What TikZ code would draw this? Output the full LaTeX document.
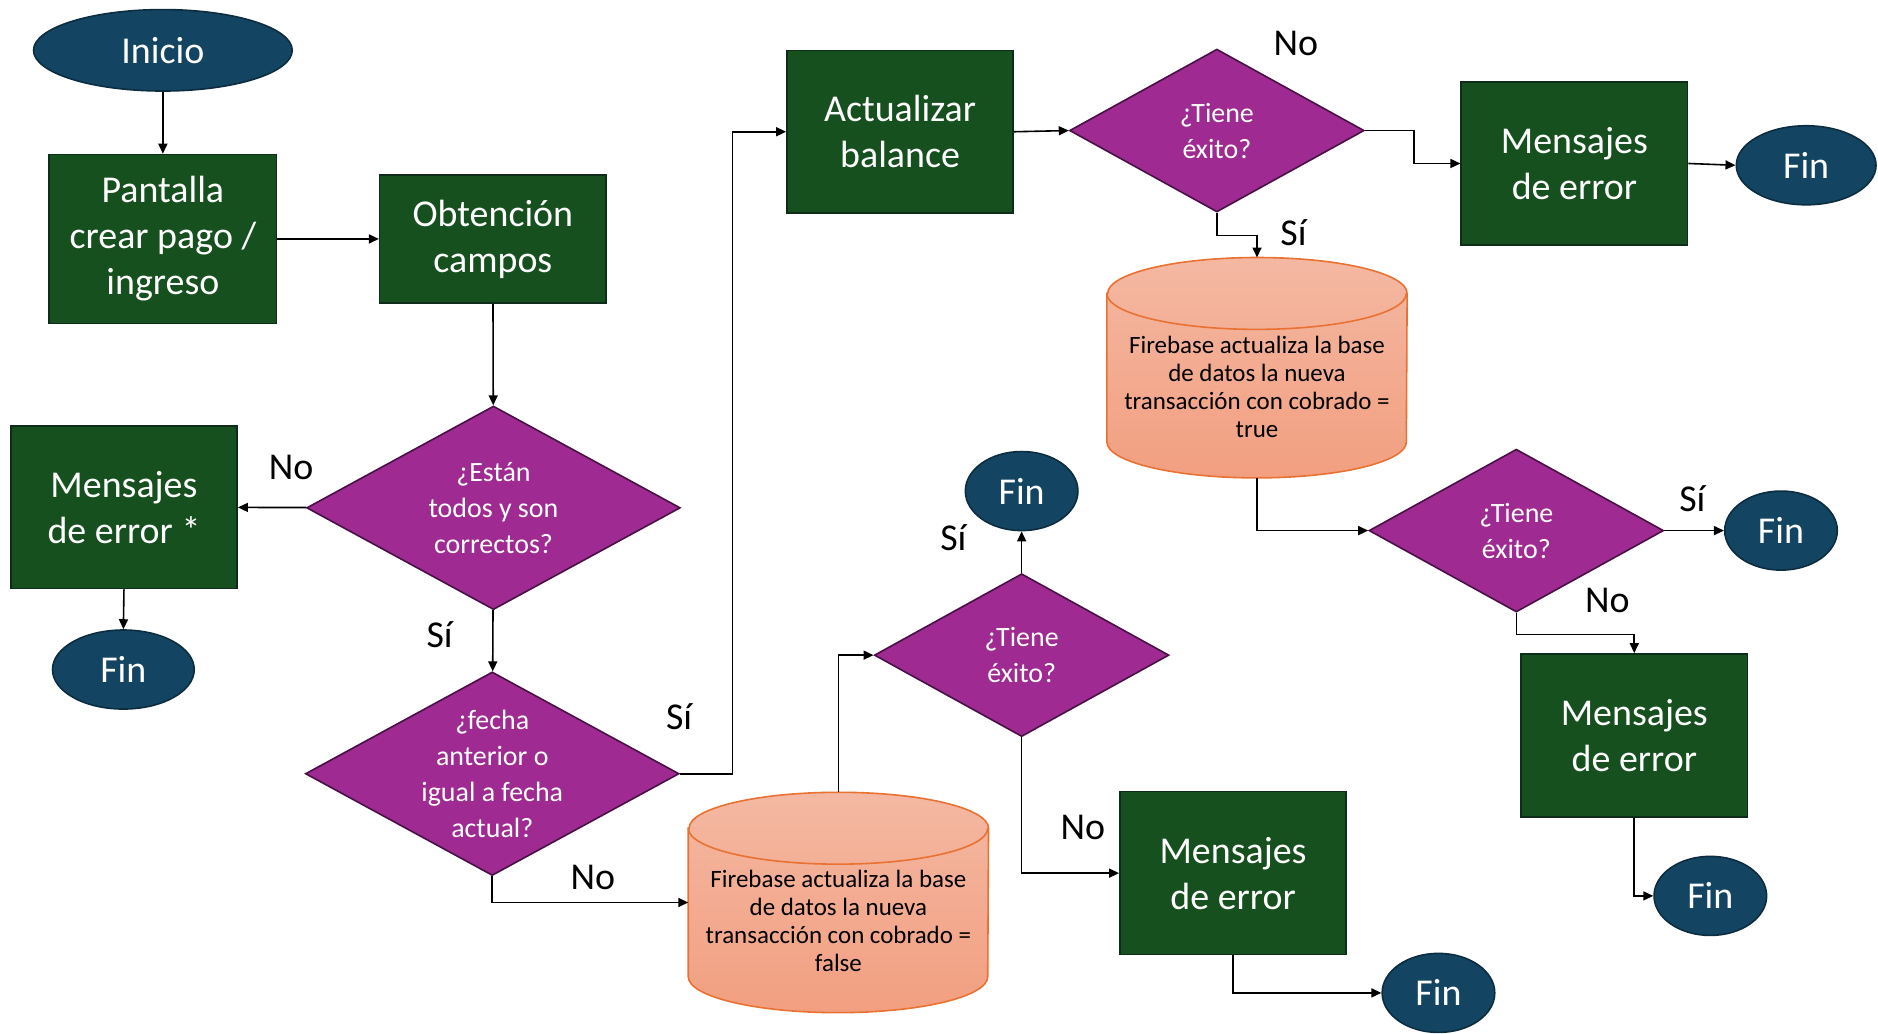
\documentclass[tikz,border=0pt]{standalone}
\usepackage{fontspec}
\setmainfont{Carlito}
\usetikzlibrary{shapes.geometric}
\usetikzlibrary{arrows.meta}

\definecolor{azul}{HTML}{134562}
\definecolor{azulborde}{HTML}{0C2C40}
\definecolor{verde}{HTML}{17501F}
\definecolor{verdeborde}{HTML}{0D2C19}
\definecolor{morado}{HTML}{9E2A92}
\definecolor{moradoborde}{HTML}{4A1045}
\definecolor{naranja}{HTML}{E97132}
\definecolor{salmonclaro}{HTML}{F4B8A2}
\definecolor{salmon}{HTML}{F29F80}

\tikzset{
  terminal/.style={ellipse, draw=azulborde, fill=azul, text=white, line width=0.8pt,
    minimum width=56.4pt, minimum height=39.6pt, inner sep=0pt, font=\fontsize{19}{22}\selectfont},
  proceso/.style={rectangle, draw=verdeborde, fill=verde, text=white, line width=0.8pt,
    minimum width=113.4pt, minimum height=81.6pt, align=center, font=\fontsize{19}{23}\selectfont},
  decision/.style={diamond, draw=moradoborde, fill=morado, text=white, line width=0.8pt,
    minimum width=147.6pt, minimum height=81.6pt, aspect=1.8, inner sep=-12pt, align=center,
    font=\fontsize{14}{18}\selectfont},
  bd/.style={minimum width=150pt, minimum height=110pt, inner sep=0pt},
  bdcuerpo/.style={draw=naranja, line width=0.8pt, top color=salmonclaro, bottom color=salmon},
  bdtexto/.style={align=center, font=\fontsize{12.5}{14}\selectfont},
  etiqueta/.style={font=\fontsize{19}{22}\selectfont},
  flecha/.style={-{Triangle[length=5pt,width=4.5pt]}, line width=0.8pt},
}

% base de datos: cuerpo del cilindro sobre el nodo #1
\newcommand{\cilindro}[1]{%
  \path[bdcuerpo] ([yshift=-18pt]#1.north west) -- ([yshift=18pt]#1.south west)
    arc[start angle=180,end angle=360,x radius=75pt,y radius=18pt]
    -- ([yshift=-18pt]#1.north east)
    arc[start angle=0,end angle=180,x radius=75pt,y radius=18pt] -- cycle;
  \draw[naranja, line width=0.8pt] ([yshift=-18pt]#1.north west)
    arc[start angle=180,end angle=360,x radius=75pt,y radius=18pt];}

\begin{document}
\begin{tikzpicture}[x=0.6pt,y=0.6pt]
  \useasboundingbox (0,0) rectangle (1568,-863);

  % columna izquierda
  \node[terminal, minimum width=129.6pt, minimum height=40.8pt] (inicio) at (136,-42) {Inicio};
  \node[proceso, minimum width=114pt, minimum height=84.6pt] (pantalla) at (136,-199.5) {Pantalla\\crear pago /\\ingreso};
  \node[proceso, minimum height=64.2pt] (campos) at (411.5,-199.5) {Obtención\\campos};
  \node[decision, minimum width=187.2pt, minimum height=102pt] (validos) at (412,-424) {¿Están\\todos y son\\correctos?};
  \node[proceso] (errcampos) at (103.5,-423.5) {Mensajes\\de error *};
  \node[terminal, minimum width=71pt] (fin1) at (103,-559) {Fin};
  \node[decision, minimum width=187.2pt, minimum height=102pt] (fecha) at (411,-646) {¿fecha\\anterior o\\igual a fecha\\actual?};

  % rama de cobro
  \node[proceso] (balance) at (751.5,-110) {Actualizar\\balance};
  \node[decision] (exito1) at (1016,-109) {¿Tiene\\éxito?};
  \node[proceso] (error1) at (1314.5,-136.5) {Mensajes\\de error};
  \node[terminal, minimum width=70pt] (fin2) at (1508,-138) {Fin};
  \node[bd] (bdtrue) at (1049.5,-307) {};
  \cilindro{bdtrue}
  \node[bdtexto] (txttrue) at (1049.5,-323) {Firebase actualiza la base\\de datos la nueva\\transacción con cobrado =\\true};
  \node[decision] (exito2) at (1266,-443) {¿Tiene\\éxito?};
  \node[terminal] (fin3) at (1487,-443) {Fin};
  \node[proceso] (error2) at (1364.5,-614) {Mensajes\\de error};
  \node[terminal] (fin4) at (1428,-748) {Fin};

  % rama sin cobro
  \node[bd] (bdfalse) at (700,-753.5) {};
  \cilindro{bdfalse}
  \node[bdtexto] (txtfalse) at (700,-769) {Firebase actualiza la base\\de datos la nueva\\transacción con cobrado =\\false};
  \node[decision] (exito3) at (853,-547) {¿Tiene\\éxito?};
  \node[terminal] (fin5) at (853,-410) {Fin};
  \node[proceso] (error3) at (1029.5,-729) {Mensajes\\de error};
  \node[terminal] (fin6) at (1201,-829) {Fin};

  % conectores
  \draw[flecha] (inicio) -- (pantalla);
  \draw[flecha] (pantalla) -- (campos);
  \draw[flecha] (campos) -- (validos);
  \draw[flecha] (validos) -- (errcampos);
  \draw[flecha] (errcampos.south) -- (fin1.north);
  \draw[flecha] (validos) -- (fecha);
  \draw[flecha] (fecha.east) -- ++(44,0) |- (balance.west);
  \draw[flecha] (fecha.south) |- (bdfalse.west);
  \draw[flecha] (balance.east) -- (exito1.west);
  \draw[flecha] (exito1.east) -- ++(41,0) |- (error1.west);
  \draw[flecha] (error1.east) -- (fin2.west);
  \draw[flecha] (exito1.south) -- ++(0,-19) -| (bdtrue.north);
  \draw[flecha] (bdtrue.south) |- (exito2.west);
  \draw[flecha] (exito2.east) -- (fin3.west);
  \draw[flecha] (exito2.south) -- ++(0,-18) -| (error2.north);
  \draw[flecha] (error2.south) |- (fin4.west);
  \draw[flecha] (bdfalse.north) |- (exito3.west);
  \draw[flecha] (exito3.north) -- (fin5.south);
  \draw[flecha] (exito3.south) |- (error3.west);
  \draw[flecha] (error3.south) |- (fin6.west);

  % etiquetas
  \node[etiqueta] (no1) at (243,-390) {No};
  \node[etiqueta] (si1) at (367,-530) {Sí};
  \node[etiqueta] (si2) at (567,-598) {Sí};
  \node[etiqueta] (no2) at (495,-733) {No};
  \node[etiqueta] (si3) at (796,-449) {Sí};
  \node[etiqueta] (no3) at (904,-691) {No};
  \node[etiqueta] (no4) at (1082,-36) {No};
  \node[etiqueta] (si4) at (1080,-194) {Sí};
  \node[etiqueta] (si5) at (1413,-416) {Sí};
  \node[etiqueta] (no5) at (1342,-501) {No};
\end{tikzpicture}
\end{document}
